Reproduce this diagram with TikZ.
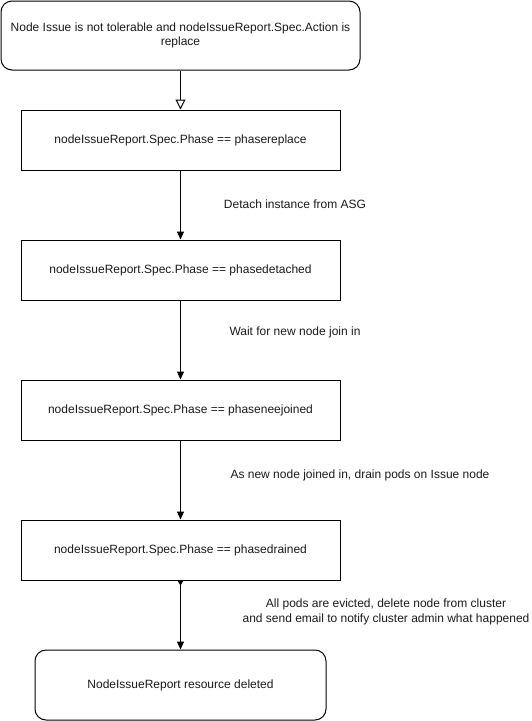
\documentclass[tikz,border=0pt]{standalone}
\usepackage{fontspec}
\setmainfont{Liberation Sans}
\usetikzlibrary{arrows.meta}
\definecolor{txt}{HTML}{1A1A1A}
\begin{document}
\begin{tikzpicture}[x=1pt,y=-1pt,
  font=\fontsize{12}{14.5}\selectfont,
  every node/.style={text=txt},
  phasebox/.style={draw=black,line width=1pt,minimum width=319pt,minimum height=60pt,inner sep=0pt,align=center},
  termbox/.style={draw=black,line width=1pt,rounded corners=11pt,inner sep=0pt,align=center},
  flow/.style={draw=black,line width=1pt,-{Triangle[length=8pt,width=7pt]}},
  openflow/.style={draw=black,line width=1pt,-{Triangle[open,length=10pt,width=10pt,line width=1pt]}},
  lbl/.style={inner sep=0pt,align=center}
]
\useasboundingbox (0,0) rectangle (531,721);
\node[termbox,minimum width=359pt,minimum height=69pt] (start) at (180.5,35.5)
  {Node Issue is not tolerable and nodeIssueReport.Spec.Action is\\replace};
\node[phasebox] (replace) at (180.5,140) {nodeIssueReport.Spec.Phase == phasereplace};
\node[phasebox] (detached) at (180.5,270) {nodeIssueReport.Spec.Phase == phasedetached};
\node[phasebox] (joined) at (180.5,410) {nodeIssueReport.Spec.Phase == phaseneejoined};
\node[phasebox] (drained) at (180.5,550) {nodeIssueReport.Spec.Phase == phasedrained};
\node[termbox,minimum width=291pt,minimum height=70pt] (deleted) at (180.5,685)
  {NodeIssueReport resource deleted};

\draw[openflow] (start) -- (replace);
\draw[flow] (replace) -- (detached);
\draw[flow] (detached) -- (joined);
\draw[flow] (joined) -- (drained);
\draw[draw=black,line width=1pt,{Triangle[reversed,length=5pt,width=6pt]}-{Triangle[length=8pt,width=7pt]}] (drained) -- (deleted);

\node[lbl] (l1) at (295,204) {Detach instance from ASG};
\node[lbl] (l2) at (295,332) {Wait for new node join in};
\node[lbl] (l3) at (360,475) {As new node joined in, drain pods on Issue node};
\node[lbl] (l4) at (386,612) {All pods are evicted, delete node from cluster\\and send email to notify cluster admin what happened};
\end{tikzpicture}
\end{document}
